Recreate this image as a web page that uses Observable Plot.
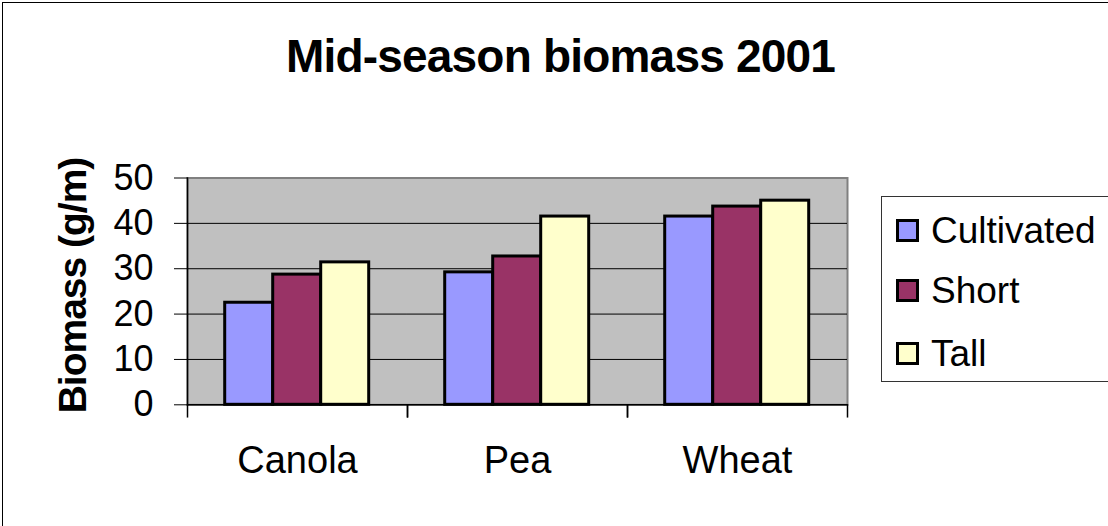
<!DOCTYPE html>
<html>
<head>
<meta charset="utf-8">
<script src="https://cdn.jsdelivr.net/npm/d3@7"></script>
<script src="https://cdn.jsdelivr.net/npm/@observablehq/plot@0.6"></script>
<style>
  html, body { margin: 0; padding: 0; background: #fff; }
  #wrap { position: relative; width: 1108px; height: 526px; overflow: hidden; font-family: "Liberation Sans", Arial, sans-serif; color: #000; }
  #outer { position: absolute; left: 2px; top: 2px; width: 1300px; height: 800px; border: 1.5px solid #000; }
  #chart { position: absolute; left: 0; top: 0; }
  #title { position: absolute; left: 0; width: 1121px; top: 33px; text-align: center; font-size: 46px; line-height: 46px; font-weight: bold; letter-spacing: -0.8px; white-space: nowrap; }
  #ylabel { position: absolute; width: 400px; height: 39px; left: -128.5px; top: 265.5px; text-align: center; font-size: 39px; line-height: 39px; font-weight: bold; letter-spacing: -1px; transform: rotate(-90deg); white-space: nowrap; }
  #legend { position: absolute; left: 881px; top: 196px; width: 230px; height: 186px; box-sizing: border-box; border: 1.5px solid #333; background: #fff; }
  .row { position: absolute; left: 14px; height: 40px; display: flex; align-items: center; font-size: 37px; line-height: 37px; white-space: nowrap; }
  .sw { width: 23px; height: 23px; box-sizing: border-box; border: 3px solid #000; margin-right: 12px; }
</style>
</head>
<body>
<div id="wrap">
  <div id="outer"></div>
  <div id="chart"></div>
  <div id="title"></div>
  <div id="ylabel"></div>
  <div id="legend"></div>
</div>
<script>
const titleText = "Mid-season biomass 2001";
const yLabel = "Biomass (g/m)";
const categories = ["Canola", "Pea", "Wheat"];
const series = ["Cultivated", "Short", "Tall"];
const cultivated = [22.5, 29.2, 41.5];
const short = [28.7, 32.7, 43.7];
const tall = [31.4, 41.5, 45.0];
const yTicks = [0, 10, 20, 30, 40, 50];
const colors = ["#9999FF", "#993366", "#FFFFCC"];

const valuesBySeries = [cultivated, short, tall];
const data = [];
categories.forEach((c, i) => {
  series.forEach((s, j) => data.push({category: c, series: s, value: valuesBySeries[j][i]}));
});

const W = 1108, H = 526;
const mTop = 177.5, mBottom = 121.7, mLeft = 186.3, mRight = 260.3;
const plotH = H - mTop - mBottom;

const chart = Plot.plot({
  width: W,
  height: H,
  marginTop: mTop,
  marginBottom: mBottom,
  marginLeft: mLeft,
  marginRight: mRight,
  style: {fontFamily: "'Liberation Sans', Arial, sans-serif", fontSize: "36px", color: "#000", background: "transparent", overflow: "visible"},
  fx: {domain: categories, paddingInner: 0, paddingOuter: 0},
  x: {domain: series, paddingInner: 0, paddingOuter: 0.755, axis: null},
  y: {domain: [0, 50]},
  color: {domain: series, range: colors},
  marks: [
    Plot.frame({facet: "super", fill: "#C0C0C0", stroke: "#808080", strokeWidth: 2}),
    Plot.gridY(yTicks.filter(v => v > 0 && v < 50), {stroke: "#000", strokeOpacity: 1, strokeWidth: 1}),
    Plot.barY(data, {fx: "category", x: "series", y: "value", fill: "series", stroke: "#000", strokeWidth: 3}),
    Plot.ruleY([0], {stroke: "#000", strokeWidth: 1.5}),
    Plot.frame({facet: "super", anchor: "left", stroke: "#000", strokeWidth: 1.5}),
    Plot.frame({anchor: "left", insetTop: plotH, insetBottom: -12, stroke: "#000", strokeWidth: 1.5}),
    Plot.frame({anchor: "right", insetTop: plotH, insetBottom: -12, stroke: "#000", strokeWidth: 1.5}),
    Plot.axisY(yTicks, {anchor: "left", tickSize: 13, tickPadding: 21, fontSize: 36, label: null, stroke: "#000"}),
    Plot.axisFx({anchor: "bottom", tickSize: 0, tickPadding: 41, fontSize: 38, label: null})
  ]
});
document.getElementById("chart").appendChild(chart);

document.getElementById("title").textContent = titleText;
document.getElementById("ylabel").textContent = yLabel;

const legend = d3.select("#legend");
const rowCenters = [33, 93, 156];
series.forEach((s, i) => {
  const row = legend.append("div").attr("class", "row").style("top", (rowCenters[i] - 20) + "px");
  row.append("div").attr("class", "sw").style("background", colors[i]);
  row.append("span").text(s);
});
</script>
</body>
</html>
